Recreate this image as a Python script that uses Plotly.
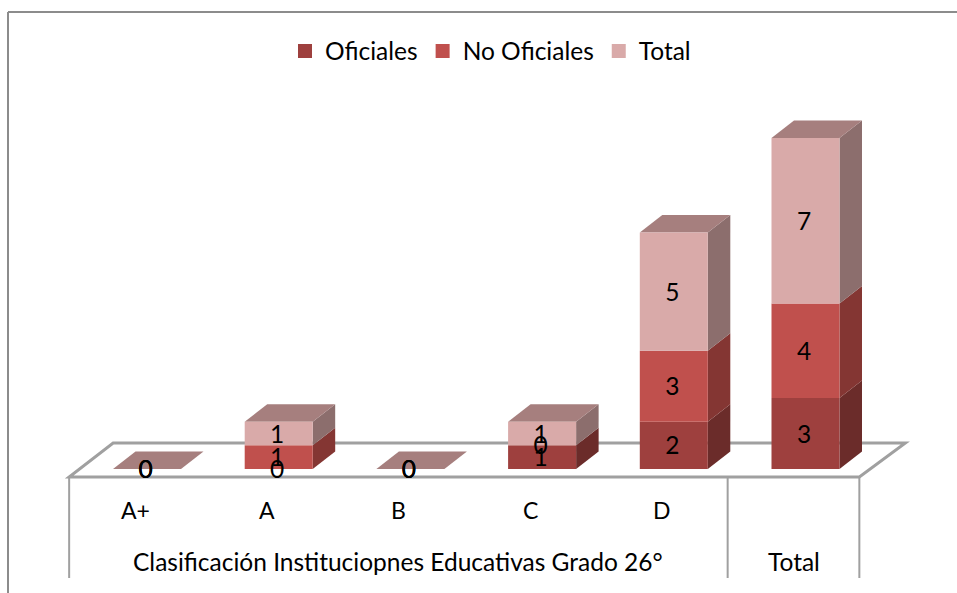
import numpy as np
import plotly.graph_objects as go

categories = ["A+", "A", "B", "C", "D", "Total"]
tick_labels = ["A+", "A", "B", "C", "D", ""]
group_labels = ["Clasificación Instituciopnes Educativas Grado 26°", "Total"]
oficiales = [0, 0, 0, 1, 2, 3]
no_oficiales = [0, 1, 0, 0, 3, 4]
total = [0, 1, 0, 1, 5, 7]

series = [
    ("Oficiales", oficiales, "#9E403E", "#6B2C2A"),
    ("No Oficiales", no_oficiales, "#C0504D", "#843633"),
    ("Total", total, "#D9AAA9", "#8C6E6D"),
]
TOP_COLOR = "#A67F7E"
LINE = "#A0A0A0"
FONT = "Lato, Carlito, Calibri, sans-serif"
FS = 24.5

W, H = 957, 593
PX_X = 131.7        # pixels per category
PX_Y = 23.64        # pixels per unit of value
X0_PX, Y0_PX = 147, 469
px = lambda p: p / PX_X
py = lambda p: p / PX_Y
bar_w = px(68)
ddx, ddy = px(22.5), py(17.5)
xs = np.arange(len(categories))
shift = px(-12)

fig = go.Figure()
shapes = []


def poly(points, fill, line=None, width=0):
    path = "M " + " L ".join(f"{a:.4f},{b:.4f}" for a, b in points) + " Z"
    shapes.append(dict(type="path", path=path, xref="x", yref="y", fillcolor=fill,
                       layer="below", line=dict(color=line or fill, width=width)))


# floor
fl, fr = -0.5 + shift, len(categories) - 0.5 + shift
fb, ft = py(-8), py(26)
poly([(fl, fb), (fr, fb), (fr + px(46), ft), (fl + px(44), ft)], "white", LINE, 3)

# dividers below the floor
for d in (fl, fl + 5, fr):
    shapes.append(dict(type="line", xref="x", yref="y", x0=d, x1=d, y0=fb, y1=py(-109),
                       layer="below", line=dict(color=LINE, width=2)))

# side and top faces, from the data
base = np.zeros(len(categories))
for name, vals, col, side in series:
    vals = np.array(vals, float)
    for x, b, v in zip(xs, base, vals):
        if v > 0:
            r = x + bar_w / 2
            poly([(r, b), (r + ddx, b + ddy), (r + ddx, b + v + ddy), (r, b + v)], side)
    fig.add_bar(x=xs, y=vals, base=base, width=bar_w, marker=dict(color=col, line_width=0),
                showlegend=False, hoverinfo="skip")
    base = base + vals
for x, t in zip(xs, base):
    l, r = x - bar_w / 2, x + bar_w / 2
    poly([(l, t), (r, t), (r + ddx, t + ddy), (l + ddx, t + ddy)], TOP_COLOR)

# data labels
base = np.zeros(len(categories))
for name, vals, col, side in series:
    vals = np.array(vals, float)
    fig.add_scatter(x=xs - px(1.5), y=base + vals / 2 - py(3), mode="text", text=[str(int(v)) for v in vals],
                    textposition="middle center", textfont=dict(family=FONT, size=FS, color="black"),
                    showlegend=False, hoverinfo="skip")
    base = base + vals

# legend
for name, vals, col, side in series:
    fig.add_scatter(x=[None], y=[None], mode="markers", name=name,
                    marker=dict(symbol="square", size=14, color=col))

# category labels
ann = [dict(x=x + shift, y=py(-41), xref="x", yref="y", text=c, showarrow=False,
            font=dict(family=FONT, size=FS - 1.5, color="black"))
       for x, c in zip(xs, tick_labels) if c]
for x, g in zip((2 + shift, 5 + shift), group_labels):
    ann.append(dict(x=x, y=py(-92), xref="x", yref="y", text=g, showarrow=False,
                    font=dict(family=FONT, size=FS, color="black")))

# outer frame: top and left edges only
for x0, y0, x1, y1 in ((8, 12, W, 12), (8, 12, 8, H)):
    shapes.append(dict(type="line", xref="paper", yref="paper", x0=x0 / W, x1=x1 / W,
                       y0=1 - y0 / H, y1=1 - y1 / H, layer="below",
                       line=dict(color="#8C8C8C", width=2)))

fig.update_layout(
    width=W, height=H, margin=dict(l=0, r=0, t=0, b=0), barmode="overlay",
    paper_bgcolor="white", plot_bgcolor="rgba(0,0,0,0)",
    shapes=shapes, annotations=ann,
    font=dict(family=FONT, size=FS, color="black"),
    legend=dict(orientation="h", x=285 / W, xanchor="left", y=1 - 51 / H, yanchor="middle",
                bgcolor="rgba(0,0,0,0)", font=dict(family=FONT, size=FS, color="black"),
                itemclick=False, itemdoubleclick=False),
    xaxis=dict(range=[-X0_PX / PX_X, (W - X0_PX) / PX_X], visible=False, fixedrange=True),
    yaxis=dict(range=[-(H - Y0_PX) / PX_Y, Y0_PX / PX_Y], visible=False, fixedrange=True),
)
fig.write_html("out.html", config=dict(displayModeBar=False),
               post_script="document.body.style.margin='0';document.body.style.overflow='hidden';")
